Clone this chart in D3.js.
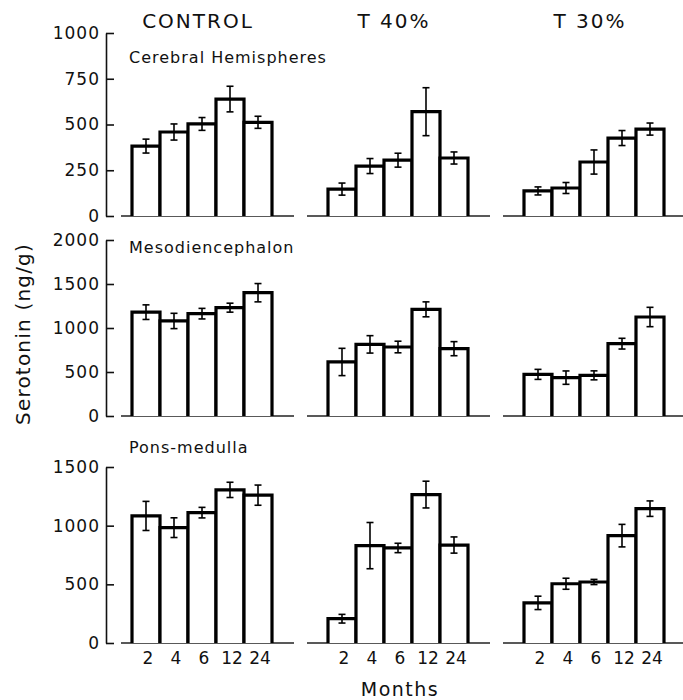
<!DOCTYPE html>
<html>
<head>
<meta charset="utf-8">
<script src="https://cdn.jsdelivr.net/npm/d3@7"></script>
<style>
  body { margin: 0; background: #fff; }
  svg { display: block; font-family: "DejaVu Sans", sans-serif; }
</style>
</head>
<body>
<svg id="chart" width="683" height="700"></svg>
<script>
// data
const months = ["2", "4", "6", "12", "24"];
const groups = ["CONTROL", "T 40%", "T 30%"];
const regions = ["Cerebral Hemispheres", "Mesodiencephalon", "Pons-medulla"];

const cerebralMean = [[382, 459, 503, 639, 512], [147, 273, 305, 570, 317], [137, 153, 295, 426, 475]];
const cerebralErr = [[38, 44, 35, 70, 33], [33, 41, 38, 131, 33], [22, 30, 66, 41, 33]];
const mesoMean = [[1180, 1080, 1163, 1231, 1401], [614, 814, 784, 1212, 765], [473, 436, 462, 822, 1125]];
const mesoErr = [[83, 87, 60, 51, 104], [155, 99, 66, 85, 80], [57, 76, 51, 61, 110]];
const ponsMean = [[1083, 983, 1111, 1305, 1260], [207, 830, 810, 1265, 835], [342, 505, 520, 915, 1145]];
const ponsErr = [[124, 84, 45, 65, 86], [37, 197, 40, 114, 69], [57, 47, 22, 96, 66]];

const yMax = [1000, 2000, 1500];
const yTicks = [[0, 250, 500, 750, 1000], [0, 500, 1000, 1500, 2000], [0, 500, 1000, 1500]];

// layout
const svg = d3.select("#chart");
const axisX = 106;
const panelY = [[216, 33], [416, 240], [643, 467]];
const labelY = [63, 253, 453];

const gx = d3.scaleBand().domain(groups).range([132, 664]).paddingInner(0.2857).paddingOuter(0);

const means = [cerebralMean, mesoMean, ponsMean];
const errs = [cerebralErr, mesoErr, ponsErr];

// column titles
svg.selectAll("text.group")
  .data(groups)
  .enter()
  .append("text")
  .attr("class", "group")
  .attr("x", (d) => gx(d) + gx.bandwidth() / 2 - 4)
  .attr("y", 28)
  .attr("text-anchor", "middle")
  .attr("font-size", 20)
  .attr("letter-spacing", 2)
  .attr("fill", "#111")
  .text((d) => d);

regions.forEach((region, r) => {
  const y = d3.scaleLinear().domain([0, yMax[r]]).range(panelY[r]);

  // y axis, ticks point inward
  const axis = d3.axisLeft(y)
    .tickValues(yTicks[r])
    .tickFormat(d3.format("d"))
    .tickSizeInner(-8)
    .tickSizeOuter(0)
    .tickPadding(6);
  const ga = svg.append("g")
    .attr("transform", `translate(${axisX},0)`)
    .call(axis);
  ga.select(".domain").attr("stroke", "#111").attr("stroke-width", 1.6);
  ga.selectAll(".tick line").attr("stroke", "#111").attr("stroke-width", 1.6);
  ga.selectAll(".tick text")
    .attr("font-size", 17)
    .attr("letter-spacing", 1)
    .attr("fill", "#111")
    .attr("font-family", "DejaVu Sans, sans-serif");

  svg.append("text")
    .attr("x", 129)
    .attr("y", labelY[r])
    .attr("font-size", 16)
    .attr("letter-spacing", 1)
    .attr("fill", "#111")
    .text(region);

  groups.forEach((grp, g) => {
    const x = d3.scaleBand().domain(months).range([gx(grp), gx(grp) + gx.bandwidth()]);
    const left = Math.max(gx(grp) - 21, axisX + 15);
    const right = gx(grp) + gx.bandwidth() + 22;

    // baseline
    svg.append("line")
      .attr("x1", left).attr("x2", right)
      .attr("y1", y(0)).attr("y2", y(0))
      .attr("stroke", "#222")
      .attr("stroke-width", 1.6);

    const rows = months.map((m, i) => ({ m: m, v: means[r][g][i], e: errs[r][g][i] }));

    // open bars (no bottom edge)
    svg.selectAll(null)
      .data(rows)
      .enter()
      .append("path")
      .attr("d", (d) => `M${x(d.m)},${y(0)}V${y(d.v)}H${x(d.m) + x.bandwidth()}V${y(0)}`)
      .attr("fill", "#fff")
      .attr("stroke", "#000")
      .attr("stroke-width", 3.2)
      .attr("stroke-linejoin", "miter");

    // error bars
    const eb = svg.selectAll(null)
      .data(rows)
      .enter()
      .append("g")
      .attr("stroke", "#000")
      .attr("stroke-width", 1.6);
    eb.append("line")
      .attr("x1", (d) => x(d.m) + x.bandwidth() / 2)
      .attr("x2", (d) => x(d.m) + x.bandwidth() / 2)
      .attr("y1", (d) => y(d.v - d.e))
      .attr("y2", (d) => y(d.v + d.e));
    [-1, 1].forEach((s) => {
      eb.append("line")
        .attr("x1", (d) => x(d.m) + x.bandwidth() / 2 - 3.5)
        .attr("x2", (d) => x(d.m) + x.bandwidth() / 2 + 3.5)
        .attr("y1", (d) => y(d.v + s * d.e))
        .attr("y2", (d) => y(d.v + s * d.e));
    });

    // month labels under the last row
    if (r === regions.length - 1) {
      svg.selectAll(null)
        .data(months)
        .enter()
        .append("text")
        .attr("x", (d) => x(d) + x.bandwidth() / 2 + 2)
        .attr("y", 664)
        .attr("text-anchor", "middle")
        .attr("font-size", 17)
        .attr("fill", "#111")
        .text((d) => d);
    }
  });
});

// axis titles
svg.append("text")
  .attr("transform", "translate(30,334) rotate(-90)")
  .attr("text-anchor", "middle")
  .attr("font-size", 20)
  .attr("letter-spacing", 1.2)
  .attr("fill", "#111")
  .text("Serotonin (ng/g)");

svg.append("text")
  .attr("x", 400)
  .attr("y", 696)
  .attr("text-anchor", "middle")
  .attr("font-size", 19)
  .attr("letter-spacing", 1.5)
  .attr("fill", "#111")
  .text("Months");
</script>
</body>
</html>
